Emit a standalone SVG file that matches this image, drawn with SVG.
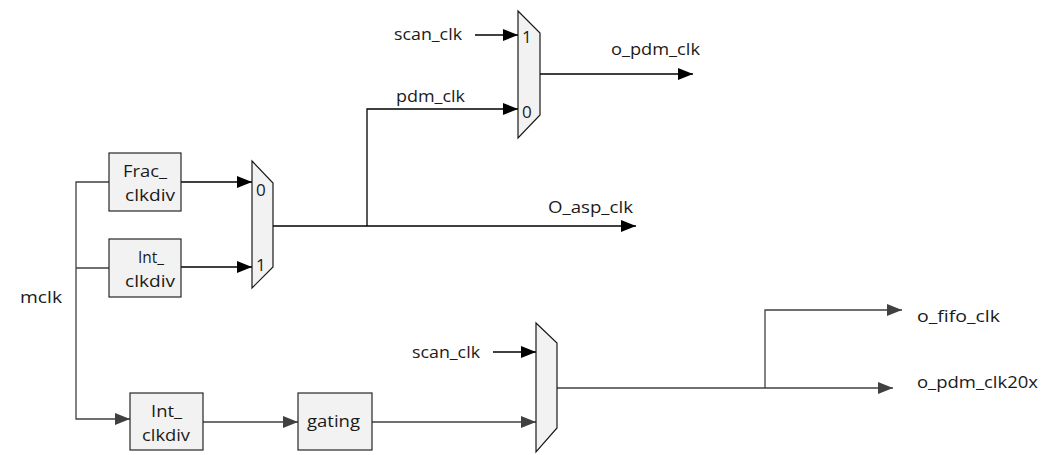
<svg xmlns="http://www.w3.org/2000/svg" width="1043" height="455" viewBox="0 0 1043 455">
<style>
text{font-family:"Open Sans","Liberation Sans",sans-serif;font-size:16px;fill:#1a1a1a}
.d{font-size:17px}
.box{fill:#f2f2f2;stroke:#262626;stroke-width:1.2}
.mux{fill:#f2f2f2;stroke:#1a1a1a;stroke-width:1.2}
.w{fill:none;stroke:#000;stroke-width:1.3}
.g{fill:none;stroke:#404040;stroke-width:1.3}
</style>
<defs>
<marker id="ak" markerUnits="userSpaceOnUse" markerWidth="15" markerHeight="12" refX="15" refY="6" orient="auto"><path d="M0,0 L15,6 L0,12 z" fill="#000"/></marker>
<marker id="ag" markerUnits="userSpaceOnUse" markerWidth="15" markerHeight="12" refX="15" refY="6" orient="auto"><path d="M0,0 L15,6 L0,12 z" fill="#404040"/></marker>
</defs>
<g id="connectors">
<path class="w" d="M475,35 H518" marker-end="url(#ak)"/>
<path class="w" d="M540,74 H693" marker-end="url(#ak)"/>
<path class="w" d="M367,226 V109 H518" marker-end="url(#ak)"/>
<path class="w" d="M273,226 H636" marker-end="url(#ak)"/>
<path class="w" d="M181,182 H252" marker-end="url(#ak)"/>
<path class="w" d="M181,267 H252" marker-end="url(#ak)"/>
<path class="g" d="M109,182 H76 V419 H130" marker-end="url(#ag)"/>
<path class="g" d="M76,268 H109"/>
<path class="g" d="M203,422 H298" marker-end="url(#ag)"/>
<path class="g" d="M372,422 H536" marker-end="url(#ag)"/>
<path class="w" d="M493,352 H536" marker-end="url(#ak)"/>
<path class="g" d="M557,388 H893" marker-end="url(#ag)"/>
<path class="g" d="M765,388 V310 H902" marker-end="url(#ag)"/>
</g>
<g id="mux_pdm">
<polygon class="mux" points="518,11 540,33 540,115 518,138"/>
<text class="d" x="522" y="43">1</text>
<text class="d" x="522" y="118">0</text>
</g>
<g id="mux_asp">
<polygon class="mux" points="252,161 273,183 273,267 252,288"/>
<text class="d" x="256" y="196">0</text>
<text class="d" x="256" y="271">1</text>
</g>
<g id="mux_fifo">
<polygon class="mux" points="536,323 557,343 557,428 536,452"/>
</g>
<g id="frac_clkdiv">
<rect class="box" x="109" y="153" width="72" height="58"/>
<text x="123" y="177" textLength="44" lengthAdjust="spacingAndGlyphs">Frac_</text>
<text x="125" y="201" textLength="50" lengthAdjust="spacingAndGlyphs">clkdiv</text>
</g>
<g id="int_clkdiv1">
<rect class="box" x="109" y="239" width="72" height="58"/>
<text x="138" y="263" textLength="26" lengthAdjust="spacingAndGlyphs">Int_</text>
<text x="125" y="287" textLength="50" lengthAdjust="spacingAndGlyphs">clkdiv</text>
</g>
<g id="int_clkdiv2">
<rect class="box" x="130" y="393" width="73" height="57"/>
<text x="151" y="417" textLength="31" lengthAdjust="spacingAndGlyphs">Int_</text>
<text x="142" y="441" textLength="48" lengthAdjust="spacingAndGlyphs">clkdiv</text>
</g>
<g id="gating">
<rect class="box" x="298" y="393" width="74" height="57"/>
<text x="307" y="427" textLength="53" lengthAdjust="spacingAndGlyphs">gating</text>
</g>
<g id="labels">
<text x="394" y="40" textLength="68" lengthAdjust="spacingAndGlyphs">scan_clk</text>
<text x="611" y="55" textLength="89" lengthAdjust="spacingAndGlyphs">o_pdm_clk</text>
<text x="396" y="102" textLength="69" lengthAdjust="spacingAndGlyphs">pdm_clk</text>
<text x="548" y="213" textLength="85" lengthAdjust="spacingAndGlyphs">O_asp_clk</text>
<text x="20" y="303" textLength="42" lengthAdjust="spacingAndGlyphs">mclk</text>
<text x="412" y="358" textLength="68" lengthAdjust="spacingAndGlyphs">scan_clk</text>
<text x="917" y="322" textLength="83" lengthAdjust="spacingAndGlyphs">o_fifo_clk</text>
<text x="917" y="388" textLength="121" lengthAdjust="spacingAndGlyphs">o_pdm_clk20x</text>
</g>
</svg>
